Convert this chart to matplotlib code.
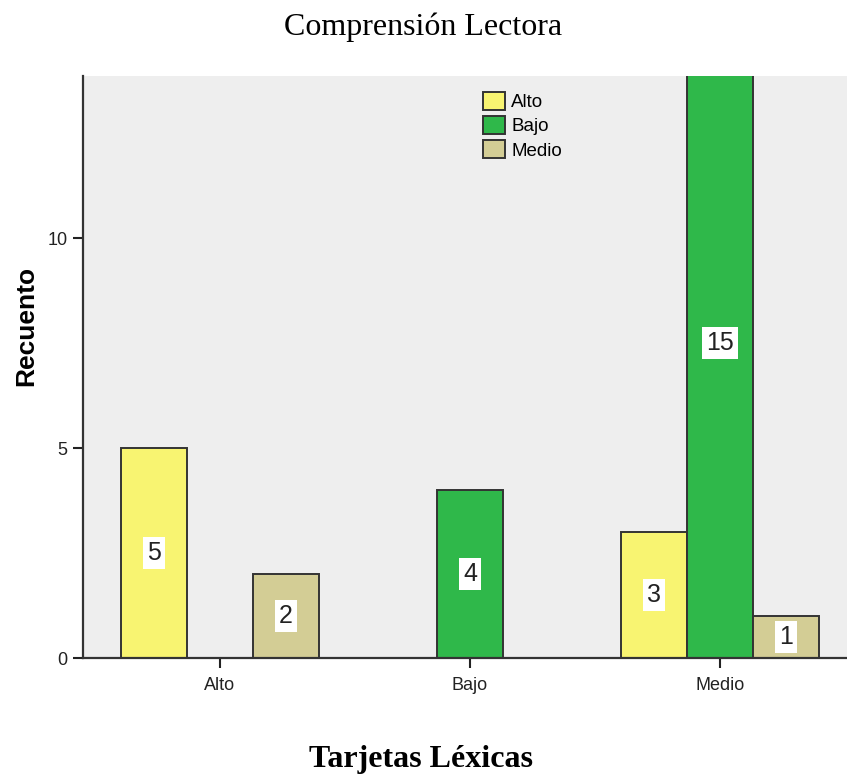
import numpy as np
import matplotlib.pyplot as plt

# Conteos por categoría de Tarjetas Léxicas y nivel de Comprensión Lectora
categorias = ["Alto", "Bajo", "Medio"]
niveles = ["Alto", "Bajo", "Medio"]
conteos = {
    "Alto":  [5, 0, 3],
    "Bajo":  [0, 4, 15],
    "Medio": [2, 0, 1],
}
colores = {"Alto": "#F8F471", "Bajo": "#2FB84A", "Medio": "#D3CD95"}

sans = "Liberation Sans"
serif = "Liberation Serif"

fig = plt.figure(figsize=(8.47, 7.78), dpi=100)
ax = fig.add_axes([0.098, 0.1542, 0.902, 0.7481])
ax.set_facecolor("#EEEEEE")

x = np.arange(len(categorias))
ancho = 0.264
for i, nivel in enumerate(niveles):
    valores = np.array(conteos[nivel])
    pos = x + (i - 1) * ancho
    mask = valores > 0
    ax.bar(pos[mask], valores[mask], width=ancho, color=colores[nivel],
           edgecolor="#333333", linewidth=1.4, label=nivel, zorder=2)
    for p, v in zip(pos[mask], valores[mask]):
        ax.text(p, v / 2, str(v), ha="center", va="center", fontsize=18,
                family=sans, color="#222222", zorder=3,
                bbox=dict(facecolor="white", edgecolor="none", pad=3))

ax.set_xlim(-0.548, 2.508)
ax.set_ylim(0, 13.86)
ax.set_yticks([0, 5, 10])
ax.set_xticks(x)
ax.set_xticklabels(categorias)
ax.tick_params(axis="both", labelsize=13, length=7.5, width=1.5,
               color="#222222", labelcolor="#222222")
ax.tick_params(axis="x", pad=6)
for lbl in ax.get_xticklabels() + ax.get_yticklabels():
    lbl.set_family(sans)

for s in ["top", "right"]:
    ax.spines[s].set_visible(False)
for s in ["left", "bottom"]:
    ax.spines[s].set_linewidth(1.6)
    ax.spines[s].set_color("#333333")

ax.set_ylabel("Recuento", fontsize=19, fontweight="bold", family=sans,
              va="center")
ax.yaxis.set_label_coords(-0.0746, 0.570)
ax.set_xlabel("Tarjetas Léxicas", fontsize=23, fontweight="bold",
              family=serif, va="center")
ax.xaxis.set_label_coords(0.4424, -0.175)
fig.suptitle("Comprensión Lectora", fontsize=23, family=serif,
             y=0.965, va="center")

leg = ax.legend(loc="upper left", bbox_to_anchor=(0.5236, 0.9725),
                frameon=False, prop={"family": sans, "size": 13.5},
                handlelength=1.15, handleheight=1.1, handletextpad=0.35,
                labelspacing=0.25, borderaxespad=0, borderpad=0)

fig.savefig("out.png", dpi=100)
